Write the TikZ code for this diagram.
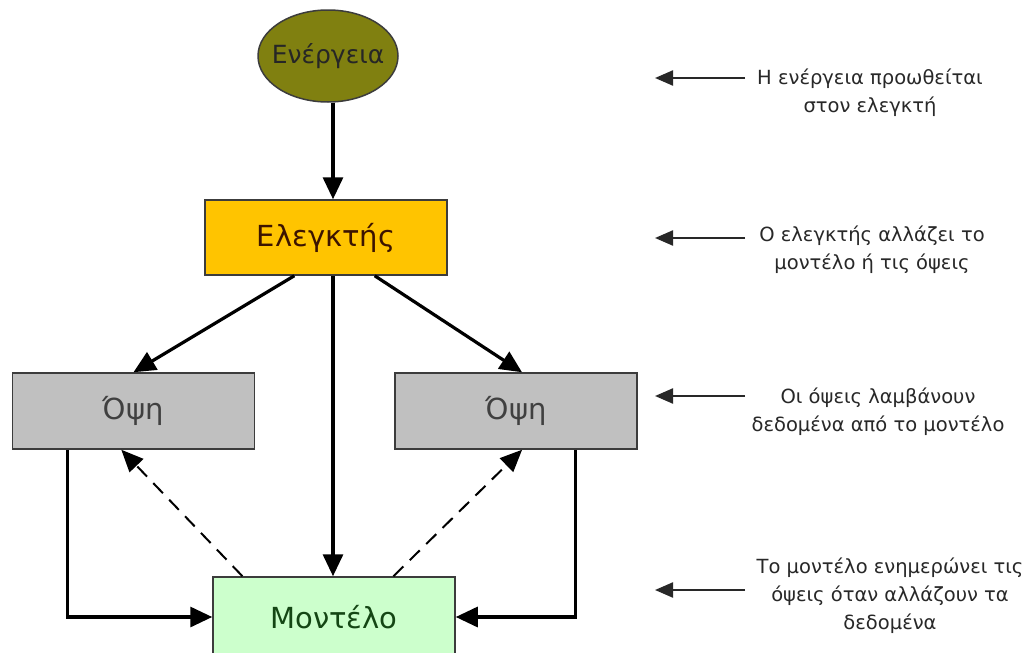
\documentclass[tikz,border=0pt]{standalone}
\usepackage{fontspec}
\setmainfont{DejaVu Sans}
\usetikzlibrary{arrows.meta,calc,shapes.geometric}
\definecolor{olivefill}{RGB}{128,128,16}
\definecolor{goldfill}{RGB}{255,196,0}
\definecolor{greyfill}{RGB}{192,192,192}
\definecolor{greenfill}{RGB}{204,255,204}
\definecolor{edgegrey}{RGB}{60,60,60}
\definecolor{noteink}{RGB}{40,40,40}
\tikzset{
  box/.style={draw=edgegrey, line width=1.5pt, minimum width=242pt, font=\fontsize{29}{32}\selectfont, inner sep=0pt},
  flow/.style={line width=3.2pt, -{Triangle[length=22pt,width=20pt]}},
  feed/.style={line width=2pt, dash pattern=on 14pt off 9pt, -{Triangle[length=22pt,width=19pt]}},
  note/.style={align=center, font=\fontsize{19.5}{28}\selectfont, text=noteink},
  pointer/.style={line width=2.2pt, draw=noteink, -{Triangle[length=18pt,width=15pt]}}
}
\begin{document}
\begin{tikzpicture}[x=1pt,y=-1pt]
\useasboundingbox[fill=white] (0,0) rectangle (1036,653);

% diagram nodes
\node[ellipse, draw=edgegrey, line width=1.5pt, fill=olivefill, minimum width=140pt, minimum height=92pt, inner xsep=-30pt, inner ysep=0pt, font=\fontsize{25}{30}\selectfont, text=black!85] (energy) at (328,56) {Ενέργεια};
\node[box, fill=goldfill, minimum height=75pt, text={rgb,255:red,60;green,20;blue,0}] (ctrl) at (326,237.5) {Ελεγκτής};
\node[box, fill=greyfill, minimum height=76pt, text=black!75] (viewL) at (133.5,411) {Όψη};
\node[box, fill=greyfill, minimum height=76pt, text=black!75] (viewR) at (516,411) {Όψη};
\node[box, fill=greenfill, minimum height=80pt, text={rgb,255:red,20;green,70;blue,20}] (model) at (334,617) {Μοντέλο};

% control flow
\draw[flow] ($(energy.south)+(5,0)$) -- ($(ctrl.north)+(7,0)$);
\draw[flow] ($(ctrl.south west)!0.37!(ctrl.south east)$) -- (viewL.north);
\draw[flow] ($(ctrl.south west)!0.70!(ctrl.south east)$) -- ($(viewR.north)+(6,0)$);
\draw[flow] ($(ctrl.south)+(7,0)$) -- ($(model.north)-(1,0)$);
\draw[flow] ($(viewL.south west)!0.23!(viewL.south east)$) |- (model.west);
\draw[flow] ($(viewR.south west)!0.744!(viewR.south east)$) |- (model.east);

% model notifies the views
\draw[feed] ($(model.north west)!0.124!(model.north east)$) -- ($(viewL.south west)!0.45!(viewL.south east)$);
\draw[feed] ($(model.north west)!0.744!(model.north east)$) -- ($(viewR.south west)!0.525!(viewR.south east)$);

% explanations
\node[note] (n1) at (870,93) {Η ενέργεια προωθείται\\στον ελεγκτή};
\node[note] (n2) at (872,250) {Ο ελεγκτής αλλάζει το\\μοντέλο ή τις όψεις};
\node[note] (n3) at (878,412) {Οι όψεις λαμβάνουν\\δεδομένα από το μοντέλο};
\node[note] (n4) at (890,596) {Το μοντέλο ενημερώνει τις\\όψεις όταν αλλάζουν τα\\δεδομένα};

\coordinate (p1a) at (745,78);  \coordinate (p1b) at (655,78);
\coordinate (p2a) at (745,238); \coordinate (p2b) at (655,238);
\coordinate (p3a) at (745,396); \coordinate (p3b) at (655,396);
\coordinate (p4a) at (745,590); \coordinate (p4b) at (655,590);
\draw[pointer] (p1a) -- (p1b);
\draw[pointer] (p2a) -- (p2b);
\draw[pointer] (p3a) -- (p3b);
\draw[pointer] (p4a) -- (p4b);
\end{tikzpicture}
\end{document}
